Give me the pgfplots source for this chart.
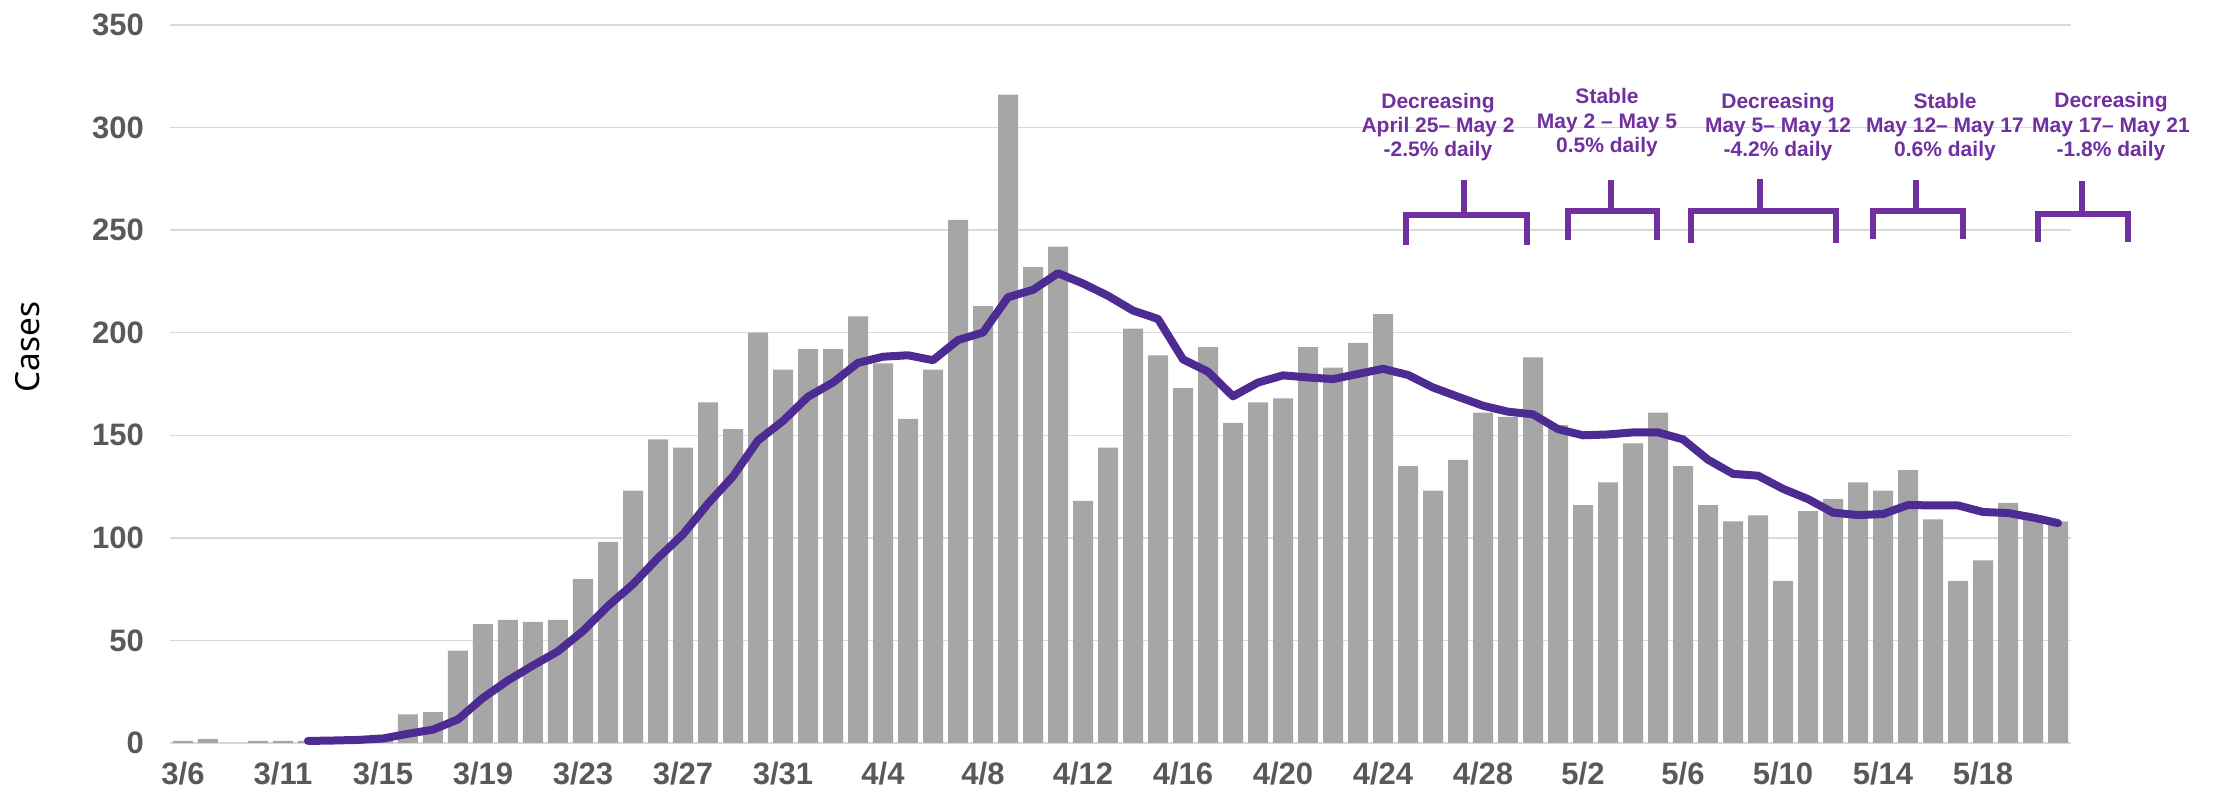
\documentclass[border=0pt]{standalone}
\usepackage{fontspec}
\setmainfont{Noto Sans}
\newfontfamily\annfont{Liberation Sans}
\usepackage{pgfplots}
\usepackage{pgfplotstable}
\pgfplotsset{compat=1.18}
\definecolor{bargray}{RGB}{166,166,166}
\definecolor{gridgray}{RGB}{217,217,217}
\definecolor{ticktext}{RGB}{89,89,89}
\definecolor{avgline}{RGB}{76,44,146}
\definecolor{annpurple}{RGB}{112,48,160}

% daily cases, one row per category (3/6 ... 5/21)
\pgfplotstableread{
idx cases
0 1
1 2
2 0
3 1
4 1
5 1
6 1
7 2
8 4
9 14
10 15
11 45
12 58
13 60
14 59
15 60
16 80
17 98
18 123
19 148
20 144
21 166
22 153
23 200
24 182
25 192
26 192
27 208
28 185
29 158
30 182
31 255
32 213
33 316
34 232
35 242
36 118
37 144
38 202
39 189
40 173
41 193
42 156
43 166
44 168
45 193
46 183
47 195
48 209
49 135
50 123
51 138
52 161
53 159
54 188
55 155
56 116
57 127
58 146
59 161
60 135
61 116
62 108
63 111
64 79
65 113
66 119
67 127
68 123
69 133
70 109
71 79
72 89
73 117
74 111
75 108
}\dailycases

% 7-day average
\pgfplotstableread{
idx avg
5 1
6 1.2
7 1.5
8 2.2
9 4.5
10 6.5
11 11.5
12 22
13 30.5
14 37.8
15 44.7
16 54.6
17 66.8
18 77.4
19 90.2
20 101.7
21 116.7
22 130
23 147.5
24 157
25 168.8
26 175.7
27 185.3
28 188.3
29 189
30 186.6
31 196.4
32 200.1
33 217.3
34 220.9
35 229
36 224
37 218
38 210.8
39 206.7
40 187
41 181
42 169
43 175.7
44 179.2
45 178.2
46 177.4
47 179.9
48 182.4
49 179.4
50 173.3
51 168.8
52 164.4
53 161.5
54 160.2
55 153
56 150
57 150.4
58 151.4
59 151.4
60 148
61 138.1
62 131.2
63 130.3
64 123.9
65 118.9
66 112.3
67 111.1
68 111.6
69 116
70 115.8
71 115.8
72 112.6
73 112.1
74 109.9
75 107.2
}\movingavg

\tikzset{
  trendtxt/.style={font=\annfont\bfseries\fontsize{6.3}{7.6}\selectfont,
    text=annpurple, anchor=base, inner sep=0pt},
  brk/.style={draw=annpurple, line width=1.8pt, line join=miter, line cap=butt}
}

\begin{document}
\begin{tikzpicture}
\begin{axis}[
  at={(0,0)}, anchor=south west,
  scale only axis,
  width=570pt, height=215.4pt,
  xmin=-0.5, xmax=75.5,
  ymin=0, ymax=350,
  clip=false,
  axis line style={draw=none},
  tick style={draw=none},
  major tick length=0pt,
  ymajorgrids,
  grid style={gridgray, line width=0.45pt},
  ytick={0,50,...,350},
  xtick={0,4,...,72},
  xticklabels={3/6,3/11,3/15,3/19,3/23,3/27,3/31,4/4,4/8,4/12,4/16,4/20,4/24,4/28,5/2,5/6,5/10,5/14,5/18},
  /pgf/number format/assume math mode=true,
  tick label style={font=\annfont\bfseries\fontsize{9.3}{10}\selectfont, text=ticktext, inner sep=0pt},
  yticklabel style={xshift=-7.8pt},
  xticklabel style={yshift=-5.6pt},
  ylabel={Cases},
  ylabel style={at={(axis description cs:-0.0751,0.5515)}, anchor=center,
    font=\fontsize{10}{12}\selectfont},
]
\addplot[ybar, bar width=0.8, fill=bargray, draw=none] table[x=idx, y=cases] {\dailycases};
\addplot[avgline, line width=2.4pt, line cap=round, line join=round, mark=none]
  table[x=idx, y=avg] {\movingavg};

% trend annotations
\node[trendtxt] at (axis cs:50.2,309.5) {Decreasing};
\node[trendtxt] at (axis cs:50.2,297.4) {April 25– May 2};
\node[trendtxt] at (axis cs:50.2,285.7) {-2.5\% daily};
\draw[brk] (axis cs:48.92,242.6) -- (axis cs:48.92,257.4) -- (axis cs:53.76,257.4) -- (axis cs:53.76,242.6);
\draw[brk] (axis cs:51.24,257.4) -- (axis cs:51.24,274.4);

\node[trendtxt] at (axis cs:56.96,311.8) {Stable};
\node[trendtxt] at (axis cs:56.96,299.7) {May 2 – May 5};
\node[trendtxt] at (axis cs:56.96,288.0) {0.5\% daily};
\draw[brk] (axis cs:55.4,245.1) -- (axis cs:55.4,259.1) -- (axis cs:58.96,259.1) -- (axis cs:58.96,245.1);
\draw[brk] (axis cs:57.12,259.1) -- (axis cs:57.12,274.4);

\node[trendtxt] at (axis cs:63.8,309.5) {Decreasing};
\node[trendtxt] at (axis cs:63.8,297.4) {May 5– May 12};
\node[trendtxt] at (axis cs:63.8,285.7) {-4.2\% daily};
\draw[brk] (axis cs:60.32,243.8) -- (axis cs:60.32,259.1) -- (axis cs:66.12,259.1) -- (axis cs:66.12,243.8);
\draw[brk] (axis cs:63.08,259.1) -- (axis cs:63.08,275);

\node[trendtxt] at (axis cs:70.48,309.5) {Stable};
\node[trendtxt] at (axis cs:70.48,297.4) {May 12– May 17};
\node[trendtxt] at (axis cs:70.48,285.7) {0.6\% daily};
\draw[brk] (axis cs:67.6,245.6) -- (axis cs:67.6,259.1) -- (axis cs:71.2,259.1) -- (axis cs:71.2,245.6);
\draw[brk] (axis cs:69.32,259.1) -- (axis cs:69.32,274.4);

\node[trendtxt] at (axis cs:77.12,309.8) {Decreasing};
\node[trendtxt] at (axis cs:77.12,297.4) {May 17– May 21};
\node[trendtxt] at (axis cs:77.12,285.9) {-1.8\% daily};
\draw[brk] (axis cs:74.2,244.4) -- (axis cs:74.2,258.1) -- (axis cs:77.8,258.1) -- (axis cs:77.8,244.4);
\draw[brk] (axis cs:75.96,258.1) -- (axis cs:75.96,274);
\end{axis}
\pgfresetboundingbox
\path[use as bounding box] (-51.15pt,-14.7pt) rectangle (613.35pt,222.9pt);
\end{tikzpicture}
\end{document}
